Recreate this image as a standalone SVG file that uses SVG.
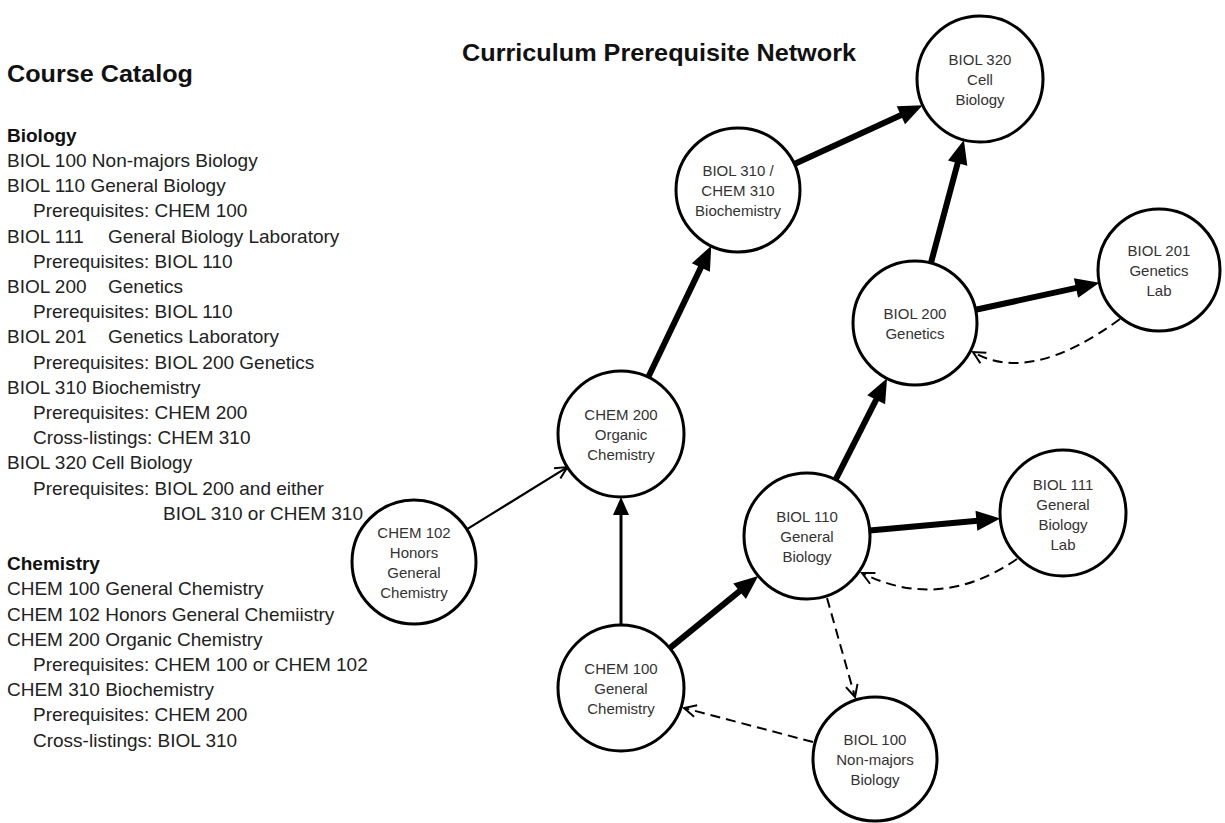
<svg xmlns="http://www.w3.org/2000/svg" width="1225" height="823" viewBox="0 0 1225 823">
<style>
text{font-family:"Liberation Sans",Arial,Helvetica,sans-serif;fill:#111}
.h{font-size:24px;font-weight:bold}
.sec{font-size:19px;font-weight:bold}
.c{font-size:19px;fill:#222}
.n circle{fill:#fff;stroke:#000;stroke-width:3}
.n text{font-size:15px;fill:#333;text-anchor:middle}
.thick{stroke:#000;stroke-width:6;fill:none;marker-end:url(#aT)}
.med{stroke:#000;stroke-width:3;fill:none;marker-end:url(#aM)}
.thin{stroke:#000;stroke-width:2.2;fill:none;marker-end:url(#aV)}
.dash{stroke:#000;stroke-width:2;fill:none;stroke-dasharray:10 6;marker-end:url(#aV)}
</style>
<defs>
<marker id="aT" markerUnits="userSpaceOnUse" markerWidth="26" markerHeight="22" refX="4" refY="10" orient="auto" overflow="visible"><path d="M0,0 L24,10 L0,20 z" fill="#000"/></marker>
<marker id="aM" markerUnits="userSpaceOnUse" markerWidth="20" markerHeight="18" refX="4" refY="8" orient="auto" overflow="visible"><path d="M0,0 L18,8 L0,16 z" fill="#000"/></marker>
<marker id="aV" markerUnits="userSpaceOnUse" markerWidth="14" markerHeight="14" refX="12" refY="6" orient="auto" overflow="visible"><path d="M0,0 L12,6 L0,12" fill="none" stroke="#000" stroke-width="2"/></marker>
</defs>
<rect width="1225" height="823" fill="#fff"/>

<g id="catalog">
<text class="h" x="7" y="82" textLength="186" lengthAdjust="spacingAndGlyphs">Course Catalog</text>
<text class="sec" x="7" y="142">Biology</text>
<text class="c" x="7" y="167">BIOL 100 Non-majors Biology</text>
<text class="c" x="7" y="192">BIOL 110 General Biology</text>
<text class="c" x="33" y="217.4">Prerequisites: CHEM 100</text>
<text class="c" x="7" y="242.6">BIOL 111</text><text class="c" x="108" y="242.6">General Biology Laboratory</text>
<text class="c" x="33" y="267.8">Prerequisites: BIOL 110</text>
<text class="c" x="7" y="293">BIOL 200</text><text class="c" x="108" y="293">Genetics</text>
<text class="c" x="33" y="318.2">Prerequisites: BIOL 110</text>
<text class="c" x="7" y="343.4">BIOL 201</text><text class="c" x="108" y="343.4">Genetics Laboratory</text>
<text class="c" x="33" y="368.6">Prerequisites: BIOL 200 Genetics</text>
<text class="c" x="7" y="393.8">BIOL 310 Biochemistry</text>
<text class="c" x="33" y="419">Prerequisites: CHEM 200</text>
<text class="c" x="33" y="444.2">Cross-listings: CHEM 310</text>
<text class="c" x="7" y="469.4">BIOL 320 Cell Biology</text>
<text class="c" x="33" y="494.6">Prerequisites: BIOL 200 and either</text>
<text class="c" x="163" y="519.8">BIOL 310 or CHEM 310</text>
<text class="sec" x="7" y="570">Chemistry</text>
<text class="c" x="7" y="595.4">CHEM 100 General Chemistry</text>
<text class="c" x="7" y="620.6">CHEM 102 Honors General Chemiistry</text>
<text class="c" x="7" y="645.8">CHEM 200 Organic Chemistry</text>
<text class="c" x="33" y="671">Prerequisites: CHEM 100 or CHEM 102</text>
<text class="c" x="7" y="696.2">CHEM 310 Biochemistry</text>
<text class="c" x="33" y="721.4">Prerequisites: CHEM 200</text>
<text class="c" x="33" y="746.6">Cross-listings: BIOL 310</text>
</g>

<text id="title" class="h" x="462" y="61" textLength="394" lengthAdjust="spacingAndGlyphs">Curriculum Prerequisite Network</text>

<g id="connectors">
<line class="thin" x1="466.7" y1="529.4" x2="567.4" y2="467.1"/>
<line class="med" x1="621" y1="625" x2="621" y2="511"/>
<line class="thick" x1="669.8" y1="648.1" x2="742.7" y2="588.6"/>
<line class="thick" x1="648.2" y1="377.2" x2="702.6" y2="263.9"/>
<line class="thick" x1="794.4" y1="164.1" x2="904.5" y2="113.6"/>
<line class="thick" x1="930.9" y1="263.1" x2="958.7" y2="159.2"/>
<line class="thick" x1="835.5" y1="479.8" x2="878" y2="396.1"/>
<line class="thick" x1="975.6" y1="309.8" x2="1079.9" y2="287.1"/>
<line class="thick" x1="869.7" y1="530.4" x2="980.4" y2="520.4"/>
<path class="dash" d="M1120,319 Q1030,385 973,352"/>
<path class="dash" d="M1017,559 Q940,612 862,573"/>
<line class="dash" x1="827" y1="598" x2="855" y2="697"/>
<line class="dash" x1="813" y1="742" x2="684" y2="708"/>
</g>

<g id="BIOL320" class="n"><circle cx="980" cy="79" r="63"/>
<text x="980" y="65">BIOL 320</text><text x="980" y="85">Cell</text><text x="980" y="105">Biology</text></g>
<g id="BIOL310" class="n"><circle cx="738" cy="190" r="62"/>
<text x="738" y="176">BIOL 310 /</text><text x="738" y="196">CHEM 310</text><text x="738" y="216">Biochemistry</text></g>
<g id="BIOL201" class="n"><circle cx="1159" cy="270" r="61"/>
<text x="1159" y="256">BIOL 201</text><text x="1159" y="276">Genetics</text><text x="1159" y="296">Lab</text></g>
<g id="BIOL200" class="n"><circle cx="915" cy="323" r="62"/>
<text x="915" y="319">BIOL 200</text><text x="915" y="339">Genetics</text></g>
<g id="CHEM200" class="n"><circle cx="621" cy="434" r="63"/>
<text x="621" y="420">CHEM 200</text><text x="621" y="440">Organic</text><text x="621" y="460">Chemistry</text></g>
<g id="CHEM102" class="n"><circle cx="414" cy="562" r="62"/>
<text x="414" y="538">CHEM 102</text><text x="414" y="558">Honors</text><text x="414" y="578">General</text><text x="414" y="598">Chemistry</text></g>
<g id="BIOL110" class="n"><circle cx="807" cy="536" r="63"/>
<text x="807" y="522">BIOL 110</text><text x="807" y="542">General</text><text x="807" y="562">Biology</text></g>
<g id="BIOL111" class="n"><circle cx="1063" cy="513" r="63"/>
<text x="1063" y="490">BIOL 111</text><text x="1063" y="510">General</text><text x="1063" y="530">Biology</text><text x="1063" y="550">Lab</text></g>
<g id="CHEM100" class="n"><circle cx="621" cy="688" r="63"/>
<text x="621" y="674">CHEM 100</text><text x="621" y="694">General</text><text x="621" y="714">Chemistry</text></g>
<g id="BIOL100" class="n"><circle cx="875" cy="759" r="62"/>
<text x="875" y="745">BIOL 100</text><text x="875" y="765">Non-majors</text><text x="875" y="785">Biology</text></g>
</svg>
